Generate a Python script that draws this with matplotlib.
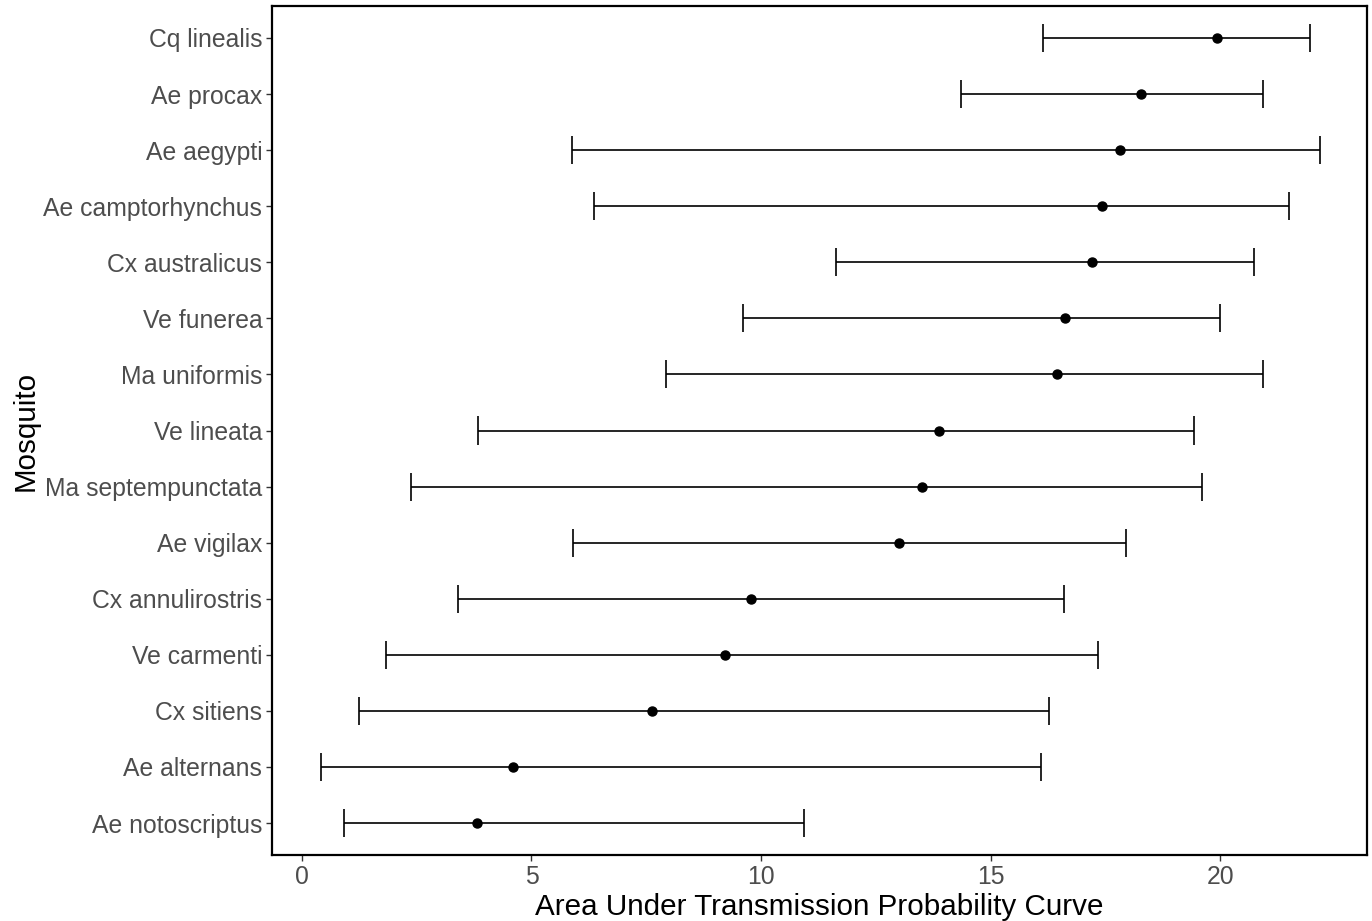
import matplotlib
matplotlib.use("Agg")
import matplotlib.pyplot as plt
import numpy as np

plt.rcParams['font.family'] = ['Liberation Sans', 'DejaVu Sans']

mosquitoes = ["Cq linealis", "Ae procax", "Ae aegypti", "Ae camptorhynchus",
              "Cx australicus", "Ve funerea", "Ma uniformis", "Ve lineata",
              "Ma septempunctata", "Ae vigilax", "Cx annulirostris", "Ve carmenti",
              "Cx sitiens", "Ae alternans", "Ae notoscriptus"]
auc = [19.93, 18.28, 17.82, 17.43, 17.21, 16.62, 16.45, 13.88, 13.51, 13.01,
       9.78, 9.22, 7.63, 4.60, 3.81]
lower = [16.14, 14.36, 5.88, 6.36, 11.63, 9.61, 7.93, 3.83, 2.37, 5.90,
         3.40, 1.83, 1.24, 0.41, 0.92]
upper = [21.96, 20.94, 22.18, 21.50, 20.74, 20.00, 20.94, 19.43, 19.61, 17.95,
         16.60, 17.34, 16.27, 16.10, 10.94]
xticks = [0, 5, 10, 15, 20]

fig = plt.figure(figsize=(13.72, 9.21), dpi=100)
ax = fig.add_axes([272/1372, 1-855/921, (1367-272)/1372, (855-6)/921])

n = len(mosquitoes)
ypos = np.arange(n, 0, -1)

ax.hlines(ypos, lower, upper, color='black', lw=1.2)
ax.vlines(lower, ypos-0.25, ypos+0.25, color='black', lw=1.2)
ax.vlines(upper, ypos-0.25, ypos+0.25, color='black', lw=1.2)
ax.plot(auc, ypos, 'o', color='black', ms=6.5, zorder=3)

ax.set_xlim(-0.65, 23.2)
ax.set_ylim(0.43, n + 0.57)
ax.set_yticks(ypos)
ax.set_yticklabels(mosquitoes)
ax.set_xticks(xticks)
ax.set_xticklabels([str(t) for t in xticks])

ax.tick_params(axis='both', colors='#333333', labelcolor='#4D4D4D',
               labelsize=17.8, length=4, width=1.0, pad=3)
for s in ax.spines.values():
    s.set_linewidth(1.6)
    s.set_color('black')

ax.set_xlabel("Area Under Transmission Probability Curve", fontsize=21.3, labelpad=3)
ax.set_ylabel("Mosquito", fontsize=21.3, labelpad=3)

fig.savefig("out.png", dpi=100)
